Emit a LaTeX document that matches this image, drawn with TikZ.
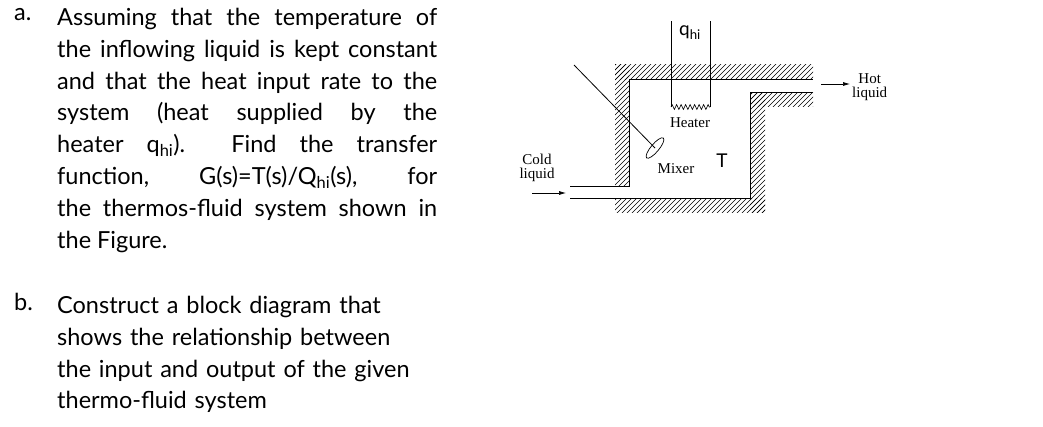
\documentclass[tikz,border=0pt]{standalone}
\usepackage{fontspec}
\setmainfont{Lato}
\newfontfamily\figfont{Liberation Serif}
\usetikzlibrary{decorations.pathmorphing,arrows.meta}
\begin{document}
\begin{tikzpicture}[x=1pt,y=-1pt,
  txt/.style={font=\fontsize{23.5}{31.8}\selectfont, inner sep=0pt, anchor=north west},
  lbl/.style={font=\figfont\fontsize{15}{13.5}\selectfont, inner sep=0pt, align=center},
  wall/.style={line width=0.9pt},
  hline/.style={line width=0.45pt}]
\useasboundingbox (0,0) rectangle (1043,426);
% text
\node[txt] (la) at (14,8) {a.};
\node[txt, text width=380pt, align=justify] (ta) at (57,8) {Assuming that the temperature of\linebreak the inflowing liquid is kept constant\linebreak and that the heat input rate to the\linebreak system (heat supplied by the\linebreak heater q\textsubscript{hi}).\ \ Find the transfer\linebreak function,\ \ G(s)=T(s)/Q\textsubscript{hi}(s),\ \ for\linebreak the thermos-fluid system shown in\linebreak the Figure.};
\node[txt] (lb) at (14,293) {b.};
\node[txt, text width=390pt, align=left] (tb) at (57,296) {Construct a block diagram that\\ shows the relationship between\\ the input and output of the given\\ thermo-fluid system};
% hatching
\foreach \r in {{(615,64) rectangle (813,79)},{(615,64) rectangle (629,186)},{(615,198) rectangle (765,212)},{(750,92) rectangle (765,212)},{(750,92) rectangle (813,106)}}{
  \begin{scope}
    \clip \r;
    \foreach \k in {-200,-195,...,260}{\draw[hline] (600+\k,215) -- (600+\k+160,55);}
  \end{scope}
}
% walls
\coordinate (a1) at (570,186); \coordinate (a2) at (629,186);
\coordinate (a3) at (629,79); \coordinate (a4) at (813,79);
\coordinate (b1) at (570,198); \coordinate (b2) at (750,198);
\coordinate (b3) at (750,92); \coordinate (b4) at (813,92);
\draw[wall] (a1) -- (a2) -- (a3) -- (a4);
\draw[wall] (b1) -- (b2) -- (b3) -- (b4);
% heater
\coordinate (h1) at (671,21); \coordinate (h2) at (671,107);
\coordinate (h3) at (710,107); \coordinate (h4) at (710,21);
\draw[line width=0.8pt] (h1) -- (h2);
\draw[line width=0.8pt] (h4) -- (h3);
\draw[line width=0.6pt, decorate, decoration={zigzag,amplitude=2.5pt,segment length=4.5pt}] (h2) -- (h3);
\node[font=\fontsize{19}{19}\selectfont, inner sep=0pt] (q) at (690,33) {q\textsubscript{hi}};
\node[lbl] (heat) at (690,123) {Heater};
% mixer
\coordinate (m0) at (574,65); \coordinate (m1) at (655,148);
\draw[line width=0.8pt] (m0) -- (m1);
\draw[line width=0.7pt, rotate around={50:(655,148)}] (m1) ellipse (13pt and 4pt);
\node[lbl] (mix) at (676,169) {Mixer};
\node[font=\fontsize{19}{19}\selectfont, inner sep=0pt] (T) at (722,161) {T};
% flows
\node[lbl] (cold) at (537,168) {Cold\\liquid};
\coordinate (c1) at (532,193); \coordinate (c2) at (566,193);
\draw[-{Latex[length=7pt,width=4pt]}, line width=0.7pt] (c1) -- (c2);
\coordinate (o1) at (821,84); \coordinate (o2) at (850,84);
\draw[-{Latex[length=7pt,width=4pt]}, line width=0.7pt] (o1) -- (o2);
\node[lbl, anchor=west] (hot) at (852,87) {Hot\\liquid};
\end{tikzpicture}
\end{document}
